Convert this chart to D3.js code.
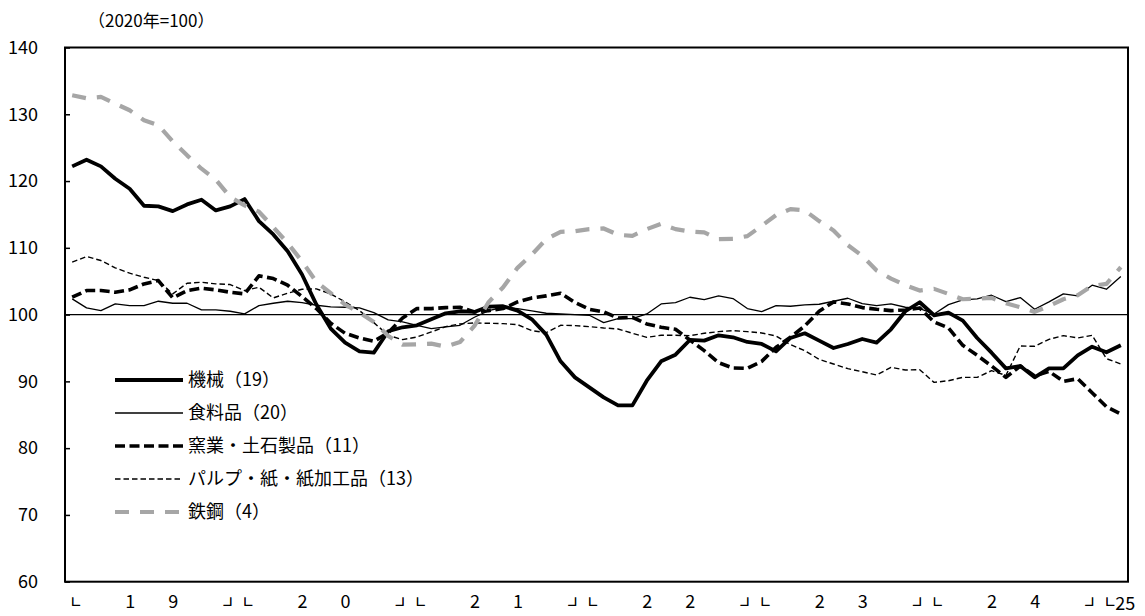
<!DOCTYPE html>
<html><head><meta charset="utf-8">
<script src="https://cdn.jsdelivr.net/npm/d3@7"></script>
<style>
body{margin:0;background:#fff}
svg{display:block}
text{font-family:"Noto Sans CJK JP","Noto Sans",sans-serif;fill:#000}
</style>
</head><body>
<svg id="chart" width="1145" height="616"></svg>
<script>
// ---- data (monthly, Jan 2019 - Feb 2025; 2020 = 100) ----
const yearCodes = ["19","20","21","22","23","24"];
const lastYearCode = "25";
const lastYearMonths = 2;

const machinery = [122.2,123.2,122.2,120.35,118.85,116.3,116.2,115.5,116.5,117.2,115.6,116.2,
  117.3,114.0,112.0,109.5,106.0,101.5,97.9,95.8,94.5,94.3,97.5,98.1,
  98.4,99.3,100.2,100.5,100.4,101.2,101.25,100.6,99.3,97.0,93.0,90.6,
  89.1,87.6,86.4,86.4,90.1,93.0,94.0,96.2,96.1,96.9,96.6,95.9,
  95.6,94.5,96.5,97.2,96.1,95.0,95.6,96.35,95.8,97.8,100.5,101.85,
  99.9,100.3,99.1,96.5,94.3,91.95,92.3,90.6,91.95,91.95,93.9,95.2,
  94.35,95.4];
const food = [102.35,101.0,100.6,101.6,101.35,101.35,102.0,101.7,101.7,100.7,100.7,100.5,
  100.1,101.35,101.7,102.0,101.8,101.4,101.15,101.1,101.0,100.3,99.2,98.9,
  98.4,97.9,98.15,98.4,99.6,100.6,101.1,100.9,100.55,100.2,100.1,100.0,
  99.9,98.8,99.4,99.4,100.1,101.6,101.8,102.6,102.25,102.8,102.4,100.9,
  100.45,101.35,101.25,101.45,101.55,102.0,102.45,101.65,101.35,101.6,101.1,100.9,
  100.1,101.5,102.2,102.35,102.9,101.95,102.55,100.8,101.9,103.1,102.8,104.4,
  103.8,105.7];
const ceramics = [102.6,103.6,103.6,103.35,103.7,104.6,105.1,102.5,103.6,103.95,103.7,103.35,
  103.1,105.8,105.4,104.4,102.7,100.9,98.7,97.2,96.5,96.0,97.3,99.5,
  100.9,100.9,101.05,101.1,100.4,100.6,100.9,101.9,102.5,102.8,103.2,101.8,
  100.8,100.4,99.5,99.6,98.6,98.1,97.8,96.2,94.6,92.8,92.0,91.95,
  93.0,95.1,96.6,98.3,100.5,101.9,101.6,101.05,100.8,100.6,100.7,101.0,
  98.9,98.0,95.4,93.9,92.3,90.6,92.3,90.8,91.5,90.0,90.4,88.3,
  86.2,85.1];
const pulp = [107.85,108.7,108.1,107.0,106.2,105.6,105.1,103.1,104.7,104.85,104.6,104.5,
  103.6,104.1,102.5,103.2,103.8,103.85,103.1,101.9,100.6,98.8,96.9,96.25,
  96.65,97.4,98.2,98.6,98.75,98.7,98.65,98.5,97.6,97.3,98.4,98.35,
  98.2,98.0,97.85,97.2,96.6,96.9,96.9,96.85,97.2,97.45,97.6,97.45,
  97.25,96.8,95.5,94.6,93.3,92.6,91.9,91.45,90.95,92.1,91.7,91.75,
  89.85,90.1,90.6,90.6,91.6,90.9,95.3,95.25,96.3,96.85,96.5,96.9,
  93.4,92.6];
const steel = [132.85,132.4,132.6,131.6,130.6,129.1,128.35,125.95,123.85,121.85,120.2,117.6,
  116.35,115.4,113.1,110.7,108.0,104.9,103.2,101.5,100.3,98.9,96.8,95.5,
  95.55,95.65,95.2,95.9,98.3,101.9,104.1,107.0,109.0,111.3,112.4,112.5,
  112.8,112.9,111.95,111.8,112.8,113.6,112.8,112.45,112.3,111.3,111.35,111.75,
  113.3,114.9,115.8,115.6,114.0,112.6,110.4,108.8,106.6,105.4,104.4,103.6,
  103.85,103.1,102.3,102.4,102.5,101.7,101.1,100.4,101.3,102.3,102.9,104.3,
  104.6,107.1];

const seriesNames = ["機械（19）","食料品（20）","窯業・土石製品（11）","パルプ・紙・紙加工品（13）","鉄鋼（4）"];
const seriesValues = [machinery, food, ceramics, pulp, steel];
const yTicks = [60,70,80,90,100,110,120,130,140];
const unitLabel = "（2020年=100）";

// ---- categories and tick labels ----
const categories = [];
const xTickLabels = [];
yearCodes.forEach(yc => {
  for (let m = 1; m <= 12; m++) {
    categories.push("20" + yc + "-" + String(m).padStart(2, "0"));
    xTickLabels.push(m === 1 ? "└" : m === 5 ? yc[0] : m === 8 ? yc[1] : m === 12 ? "┘" : "");
  }
});
for (let m = 1; m <= lastYearMonths; m++) {
  categories.push("20" + lastYearCode + "-" + String(m).padStart(2, "0"));
  xTickLabels.push(m === 1 ? "└" : lastYearCode);
}

// ---- styles ----
const styles = [
  {color:"#000", width:3.8, dash:null},
  {color:"#000", width:1.3, dash:null},
  {color:"#000", width:3.6, dash:"10,4.5"},
  {color:"#000", width:1.4, dash:"5.5,3"},
  {color:"#a6a6a6", width:4.2, dash:"14,11"}
];

const svg = d3.select("#chart");
const L = 65, R = 1128, T = 47.5, B = 581.7;

const x = d3.scalePoint().domain(categories).range([L, R]).padding(0.5);
const y = d3.scaleLinear().domain([60, 140]).range([B, T]);

// reference line at 100
svg.append("line").attr("x1", L).attr("x2", R).attr("y1", y(100)).attr("y2", y(100))
  .attr("stroke", "#000").attr("stroke-width", 1.2);

// series
const line = d3.line().x((d, i) => x(categories[i])).y(d => y(d));
seriesValues.forEach((vals, k) => {
  const s = styles[k];
  svg.append("path").datum(vals).attr("d", line)
    .attr("fill", "none").attr("stroke", s.color).attr("stroke-width", s.width)
    .attr("stroke-linejoin", "round")
    .attr("stroke-dasharray", s.dash);
});

// frame
svg.append("rect").attr("x", L).attr("y", T).attr("width", R - L).attr("height", B - T)
  .attr("fill", "none").attr("stroke", "#000").attr("stroke-width", 2);

// y axis
const yAxis = svg.append("g").attr("transform", `translate(${L},0)`)
  .call(d3.axisLeft(y).tickValues(yTicks).tickSize(-5).tickPadding(27).tickFormat(d3.format("d")));
yAxis.select(".domain").remove();
yAxis.selectAll(".tick line").attr("stroke", "#000").attr("stroke-width", 1.5);
yAxis.selectAll(".tick text").attr("font-size", 18).attr("font-family", "'Liberation Sans Narrow','Noto Sans CJK JP',sans-serif")
  .attr("fill", "#000");

// x axis
const xAxis = svg.append("g").attr("transform", `translate(0,${B})`)
  .call(d3.axisBottom(x).tickSize(0).tickFormat((d, i) => xTickLabels[i]));
xAxis.select(".domain").remove();
xAxis.selectAll(".tick text").each(function(d, i) {
  const t = d3.select(this);
  const s = xTickLabels[i];
  t.attr("dy", null).attr("fill", "#000");
  if (s === "└" || s === "┘") {
    t.attr("font-size", 14).attr("font-weight", 700).attr("y", 28)
      .attr("font-family", "'Noto Sans CJK JP',sans-serif")
      .attr("stroke", "#000").attr("stroke-width", 0.7);
  } else if (s.length === 2) {
    t.attr("font-size", 18).attr("y", 28).attr("text-anchor", "start").attr("x", -6)
      .attr("font-family", "'Liberation Sans Narrow','Noto Sans CJK JP',sans-serif");
  } else {
    t.attr("font-size", 18).attr("y", 26)
      .attr("font-family", "'Liberation Sans Narrow','Noto Sans CJK JP',sans-serif");
  }
});

// unit label
svg.append("text").attr("x", 88).attr("y", 27).attr("font-size", 17).text(unitLabel);

// legend
const legend = svg.append("g");
seriesNames.forEach((name, k) => {
  const s = styles[k];
  const ly = 380 + k * 33;
  legend.append("line").attr("x1", 115).attr("x2", 183).attr("y1", ly).attr("y2", ly)
    .attr("stroke", s.color).attr("stroke-width", s.width).attr("stroke-dasharray", s.dash);
  legend.append("text").attr("x", 188).attr("y", ly).attr("dy", "0.36em").attr("font-size", 18).text(name);
});
</script>
</body></html>
